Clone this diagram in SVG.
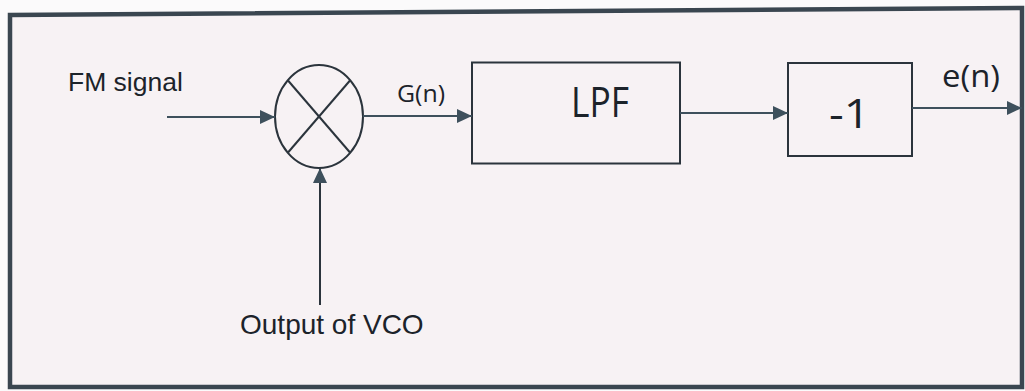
<svg xmlns="http://www.w3.org/2000/svg" width="1025" height="391" viewBox="0 0 1025 391">
<style>
.frame{fill:#f7f2f4;stroke:#3a4650;stroke-width:4.5;stroke-linejoin:miter}
.blk{fill:none;stroke:#2b343c;stroke-width:2}
.wire{fill:none;stroke:#3e505c;stroke-width:2}
.arial{font-family:"Liberation Sans",Arial,sans-serif;fill:#1c232a}
.cal{font-family:"Open Sans","Noto Sans",sans-serif;fill:#1c232a}
</style>
<defs>
<marker id="ah" markerUnits="userSpaceOnUse" markerWidth="15" markerHeight="15" viewBox="0 0 15 14" refX="15" refY="7" orient="auto">
<path d="M0,0 L15,7 L0,14 z" fill="#3e505c"/>
</marker>
</defs>
<rect x="0" y="0" width="1025" height="391" fill="#fbfafb"/>
<path class="frame" d="M10,15 L1022,8 L1022,387 L10,387 Z"/>
<g id="mixer">
<ellipse class="blk" cx="319" cy="116.5" rx="44" ry="51.5"/>
<line class="blk" x1="288" y1="80.5" x2="350" y2="152.5"/>
<line class="blk" x1="350" y1="80.5" x2="288" y2="152.5"/>
</g>
<g id="lpf">
<rect class="blk" x="472" y="62.5" width="208" height="101"/>
<text class="cal" x="571" y="117" font-size="42" textLength="58" lengthAdjust="spacingAndGlyphs">LPF</text>
</g>
<g id="neg">
<rect class="blk" x="788" y="63" width="124" height="93"/>
<text class="cal" x="829" y="128" font-size="40" textLength="41" lengthAdjust="spacingAndGlyphs">-1</text>
</g>
<g id="labels">
<text class="arial" x="68" y="91" font-size="26.5">FM signal</text>
<text class="cal" x="397" y="102" font-size="24" textLength="48" lengthAdjust="spacingAndGlyphs">G(n)</text>
<text class="cal" x="942" y="87" font-size="31" textLength="58" lengthAdjust="spacingAndGlyphs">e(n)</text>
<text class="arial" x="240" y="334" font-size="28">Output of VCO</text>
</g>
<g id="connectors">
<line class="wire" x1="167" y1="117" x2="275" y2="117" marker-end="url(#ah)"/>
<line class="wire" x1="363" y1="116" x2="472" y2="116" marker-end="url(#ah)"/>
<line class="wire" x1="680" y1="113" x2="788" y2="113" marker-end="url(#ah)"/>
<line class="wire" x1="912" y1="108" x2="1022" y2="108" marker-end="url(#ah)"/>
<line class="blk" x1="320" y1="305" x2="320" y2="168" marker-end="url(#ah)"/>
</g>
</svg>
